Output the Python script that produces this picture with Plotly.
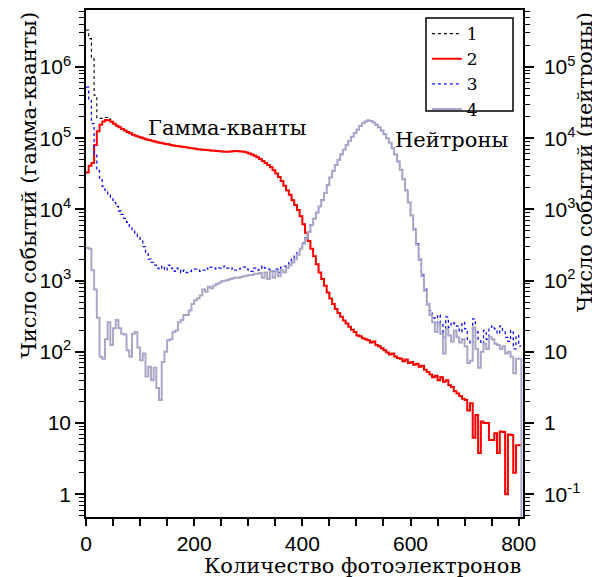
import plotly.graph_objects as go

# ---------------- data (5-unit bins, left edges 0..800) ----------------
bin_edges = list(range(0, 810, 5))  # 162 edges -> 161 bins

# series 2 (red): gamma events, left axis units
gamma_2 = [
    3.3e4, 4.1e4, 4.5e4, 8.0e4, 1.25e5, 1.55e5, 1.72e5, 1.80e5, 1.78e5, 1.70e5,
    1.60e5, 1.50e5, 1.42e5, 1.35e5, 1.28e5, 1.22e5, 1.17e5, 1.12e5, 1.08e5, 1.05e5,
    1.02e5, 9.9e4, 9.6e4, 9.4e4, 9.2e4, 9.0e4, 8.8e4, 8.6e4, 8.5e4, 8.3e4,
    8.2e4, 8.0e4, 7.9e4, 7.8e4, 7.7e4, 7.6e4, 7.5e4, 7.4e4, 7.3e4, 7.2e4,
    7.1e4, 7.0e4, 6.95e4, 6.9e4, 6.8e4, 6.75e4, 6.7e4, 6.65e4, 6.6e4, 6.55e4,
    6.5e4, 6.45e4, 6.45e4, 6.5e4, 6.55e4, 6.6e4, 6.55e4, 6.5e4, 6.45e4, 6.3e4,
    6.1e4, 5.9e4, 5.65e4, 5.4e4, 5.1e4, 4.8e4, 4.5e4, 4.2e4, 3.9e4, 3.55e4,
    3.2e4, 2.85e4, 2.5e4, 2.15e4, 1.85e4, 1.6e4, 1.35e4, 1.15e4, 9.8e3, 8.0e3,
    6.2e3, 4.7e3, 3.6e3, 2.8e3, 2.2e3, 1.7e3, 1.3e3, 1.05e3, 8.5e2, 6.8e2,
    5.6e2, 4.7e2, 4.0e2, 3.5e2, 3.1e2, 2.75e2, 2.5e2, 2.25e2, 2.05e2, 1.9e2,
    1.7e2, 1.65e2, 1.55e2, 1.5e2, 1.45e2, 1.35e2, 1.4e2, 1.25e2, 1.2e2, 1.12e2,
    1.05e2, 98, 92, 95, 86, 82, 80, 74, 78, 70,
    72, 66, 68, 62, 64, 56, 52, 48, 44, 46,
    40, 44, 38, 40, 34, 32, 28, 26, 24, 22,
    21, 15, 19, 6.2, 13, 3.8, 10.5, 10, 10, 5.8,
    5.8, 7.2, 3.8, 7.6, 7.5, 1.0, 6.9, 6.8, 2.0, 4.9,
    4.9,
]

# series 1 (black dotted): first bins where it differs from series 2, left axis units
total_1_head = [3.3e6, 2.5e6, 1.3e6, 4.0e5, 1.9e5, 1.9e5, 1.95e5, 1.95e5, 1.85e5]
total_1 = total_1_head + gamma_2[len(total_1_head):]

# series 3 (blue dotted): right axis units
neutron_3 = [
    52000, 34000, 16000, 6000, 3500, 2600, 2100, 1850, 1600, 1400,
    1250, 1100, 950, 850, 750, 660, 580, 520, 470, 420,
    370, 300, 240, 200, 180, 165, 150, 145, 160, 140,
    165, 150, 135, 150, 145, 130, 140, 130, 135, 140,
    145, 140, 135, 140, 150, 145, 155, 150, 145, 150,
    155, 160, 150, 145, 150, 140, 145, 150, 155, 145,
    140, 135, 150, 140, 145, 160, 150, 145, 140, 135,
    145, 130, 155, 160, 170, 190, 200, 220, 250, 290,
    340, 400, 490, 610, 750, 910, 1110, 1360, 1710, 2210,
    2810, 3510, 4210, 5010, 5910, 6910, 8010, 9210, 10510, 11810,
    13210, 14810, 16210, 17210, 17710, 17410, 16610, 15510, 14210, 12810,
    11410, 10010, 8610, 7210, 5910, 4710, 3610, 2660, 1860, 1260,
    830, 530, 330, 200, 120, 76, 50, 38, 30, 24,
    33, 25, 16, 31, 22, 26, 25, 23, 19, 26,
    21, 15, 13, 29, 19, 15, 13, 20, 15, 22,
    23, 21, 18, 23, 19, 16, 14, 20, 11, 17,
    12,
]

# series 4 (grey): right axis units
neutron_4 = [
    290, 280, 140, 75, 30, 8.5, 8.0, 15, 26, 12.5,
    21.5, 28, 21.5, 18, 17.5, 10.5, 8.5, 18, 19, 11.5,
    7.6, 9.5, 4.5, 6.2, 4.0, 6.0, 3.1, 2.1, 7.2, 10,
    14.5, 15, 19, 20, 26, 28, 33, 33, 38, 47,
    53, 56, 62, 75, 70, 82, 78, 85, 90, 93,
    98, 100, 102, 105, 108, 110, 110, 112, 115, 117,
    120, 120, 125, 125, 128, 110, 130, 105, 135, 110,
    135, 115, 140, 130, 150, 165, 180, 200, 230, 280,
    330, 390, 480, 600, 740, 900, 1100, 1350, 1700, 2200,
    2800, 3500, 4200, 5000, 5900, 6900, 8000, 9200, 10500, 11800,
    13200, 14800, 16200, 17200, 17700, 17400, 16600, 15500, 14200, 12800,
    11400, 10000, 8600, 7200, 5900, 4700, 3600, 2650, 1850, 1250,
    820, 520, 320, 195, 115, 72, 46, 33, 26, 19,
    25, 18, 9.5, 21, 17, 14, 20, 16, 13.5, 15,
    12, 7.0, 7.5, 22, 11, 6.0, 10, 13, 11, 16,
    15, 13, 12.5, 11, 12, 9.5, 10, 8.5, 5.0, 8.0,
    8.0,
]

legend_names = ["1", "2", "3", "4"]
x_tick_values = [0, 200, 400, 600, 800]
left_tick_values = [1, 10, 100, 1e3, 1e4, 1e5, 1e6]
left_tick_text = ["1", "10", "10<sup>2</sup>", "10<sup>3</sup>", "10<sup>4</sup>",
                  "10<sup>5</sup>", "10<sup>6</sup>"]
right_tick_values = [0.1, 1, 10, 100, 1e3, 1e4, 1e5]
right_tick_text = ["10<sup>-1</sup>", "1", "10", "10<sup>2</sup>", "10<sup>3</sup>",
                   "10<sup>4</sup>", "10<sup>5</sup>"]
x_title = "Количество фотоэлектронов"
y_title = "Число событий (гамма-кванты)"
y2_title = "Число событий (нейтроны)"
label_gamma = "Гамма-кванты"
label_neutron = "Нейтроны"


def step_xy(values, drop=None):
    xs = list(bin_edges)
    ys = list(values) + [values[-1]]
    if drop is not None:
        xs.append(bin_edges[-1])
        ys.append(drop)
    return xs, ys


SERIF = "DejaVu Serif"
SANS = "Liberation Sans"

fig = go.Figure()

x1, y1 = step_xy(total_1)
x2, y2 = step_xy(gamma_2)
x3, y3 = step_xy(neutron_3)
x4, y4 = step_xy(neutron_4, drop=1e-3)

fig.add_trace(go.Scatter(x=x3, y=y3, yaxis="y2", mode="lines", line_shape="hv",
                         name=legend_names[2], legendrank=3,
                         line=dict(color="#1010ff", width=1.3, dash="dot")))
fig.add_trace(go.Scatter(x=x4, y=y4, yaxis="y2", mode="lines", line_shape="hv",
                         name=legend_names[3], legendrank=4,
                         line=dict(color="#aaa7c6", width=2)))
fig.add_trace(go.Scatter(x=x1, y=y1, mode="lines", line_shape="hv",
                         name=legend_names[0], legendrank=1,
                         line=dict(color="black", width=1.1, dash="dot")))
fig.add_trace(go.Scatter(x=x2, y=y2, mode="lines", line_shape="hv",
                         name=legend_names[1], legendrank=2,
                         line=dict(color="#ff0000", width=2)))


def log_minor(lo, hi):
    vals = []
    for e in range(lo, hi + 1):
        for m in range(2, 10):
            vals.append(m * 10.0 ** e)
    return vals


tickfont = dict(family=SANS, size=21, color="black")
TITLE_SIZE = 21

# the page places the figure 8 px from the top-left corner of the window
fig.update_layout(
    width=592, height=569,
    margin=dict(l=78, r=77, t=2, b=60, autoexpand=False),
    paper_bgcolor="white", plot_bgcolor="white",
    xaxis=dict(range=[0, 808], tickmode="array", tickvals=x_tick_values,
               automargin=False,
               ticks="outside", ticklen=7, tickwidth=1.5, tickcolor="black",
               showline=True, linecolor="black", linewidth=1.5, mirror=True,
               showgrid=False, zeroline=False, tickfont=tickfont,
               minor=dict(dtick=50, tick0=0, ticks="outside", ticklen=7,
                          tickwidth=1.5, tickcolor="black", showgrid=False)),
    yaxis=dict(type="log", range=[-0.319, 6.8], tickmode="array",
               tickvals=left_tick_values, ticktext=left_tick_text,
               automargin=False,
               ticks="outside", ticklen=9, tickwidth=1.5, tickcolor="black",
               showline=True, linecolor="black", linewidth=1.5,
               showgrid=False, zeroline=False, tickfont=tickfont,
               minor=dict(tickmode="array", tickvals=log_minor(-1, 6), ticks="outside",
                          ticklen=5, tickwidth=1.2, tickcolor="black", showgrid=False)),
    yaxis2=dict(type="log", range=[-1.319, 5.8], overlaying="y", side="right",
                tickmode="array", tickvals=right_tick_values, ticktext=right_tick_text,
                automargin=False,
                ticks="outside", ticklen=9, tickwidth=1.5, tickcolor="black",
                showline=True, linecolor="black", linewidth=1.5,
                showgrid=False, zeroline=False, tickfont=tickfont,
                ticklabelstandoff=6,
                minor=dict(tickmode="array", tickvals=log_minor(-2, 5), ticks="outside",
                           ticklen=5, tickwidth=1.2, tickcolor="black", showgrid=False)),
    showlegend=True,
    legend=dict(x=0.78, y=0.988, xanchor="left", yanchor="top",
                bgcolor="rgba(0,0,0,0)", borderwidth=0,
                font=dict(family=SERIF, size=17, color="black"),
                tracegroupgap=0),
    shapes=[dict(type="rect", xref="paper", yref="paper",
                 x0=(426 - 86) / 437, x1=(513 - 86) / 437,
                 y0=(517 - 111) / 507, y1=(517 - 18) / 507,
                 line=dict(color="black", width=1.5), fillcolor="white", layer="above")],
    annotations=[
        dict(text=label_gamma, x=262, y=5.14, xref="x", yref="y", showarrow=False,
             font=dict(family=SERIF, size=TITLE_SIZE, color="black")),
        dict(text=label_neutron, x=676, y=4.97, xref="x", yref="y", showarrow=False,
             font=dict(family=SERIF, size=TITLE_SIZE, color="black")),
        dict(text=x_title, x=1.0, y=(517 - 566) / 507, xref="paper", yref="paper",
             xanchor="right", yanchor="middle", showarrow=False,
             font=dict(family=SERIF, size=TITLE_SIZE, color="black")),
        dict(text=y_title, x=(28 - 86) / 437, y=1.0, xref="paper", yref="paper",
             xanchor="center", yanchor="top", textangle=-90, showarrow=False,
             font=dict(family=SERIF, size=TITLE_SIZE, color="black")),
        dict(text=y2_title, x=(585 - 86) / 437, y=1.0, xref="paper", yref="paper",
             xanchor="center", yanchor="top", textangle=-90, showarrow=False,
             font=dict(family=SERIF, size=TITLE_SIZE, color="black")),
    ],
)

fig.write_html("out.html")
